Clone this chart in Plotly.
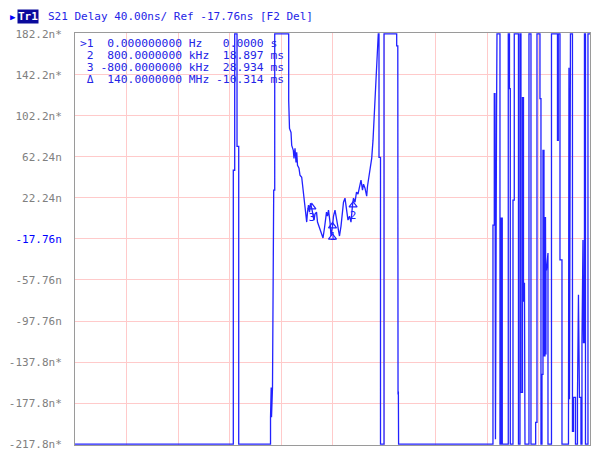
import plotly.graph_objects as go

# ---------------- data ----------------
# trace: frequency offset (MHz) vs group delay (ns); values clamp at the display limits
freq_mhz = [
    -10.0, -3.852, -3.852, -3.798, -3.798, -3.708, -3.708, -3.642, -3.642,
    -2.407, -2.407, -2.400, -2.394, -2.381, -2.369, -2.330, -2.283, -2.244, -2.244,
    -1.701, -1.701, -1.670, -1.611, -1.584, -1.522, -1.495, -1.456, -1.417, -1.390,
    -1.359, -1.301, -1.262, -1.196, -1.165, -1.134, -1.107, -1.068, -1.029, -1.002,
    -0.971, -0.932, -0.893, -0.854, -0.808, -0.757, -0.718, -0.680, -0.621, -0.582,
    -0.524, -0.485, -0.427, -0.369, -0.311, -0.272, -0.233, -0.194, -0.155, -0.097,
    -0.058, 0.000, 0.039, 0.097, 0.155, 0.214, 0.272, 0.330, 0.388, 0.427, 0.485,
    0.544, 0.602, 0.660, 0.718, 0.777, 0.815, 0.874, 0.932, 0.990, 1.048, 1.107,
    1.165, 1.204, 1.262, 1.328, 1.359, 1.398, 1.437, 1.476, 1.522, 1.573, 1.623,
    1.689, 1.740, 1.778, 1.806, 1.806, 1.864, 1.864, 2.000, 2.000, 2.493, 2.493,
    2.536, 2.536, 2.545, 2.550, 2.558, 2.567,
    6.232, 6.232, 6.283, 6.283, 6.310, 6.329, 6.341, 6.357, 6.370, 6.388, 6.504,
    6.504, 6.543, 6.543, 6.593, 6.593, 6.826, 6.826, 6.873, 6.873, 6.904, 6.904,
    7.009, 7.009, 7.059, 7.059, 7.222, 7.222, 7.281, 7.281, 7.319, 7.319, 7.378,
    7.378, 7.417, 7.417, 7.455, 7.475, 7.630, 7.630, 7.708, 7.708, 7.890, 7.890,
    7.941, 7.941, 8.057, 8.057, 8.096, 8.096, 8.135, 8.135, 8.174, 8.174, 8.213,
    8.213, 8.232, 8.252, 8.271, 8.290, 8.290, 8.310, 8.368, 8.368, 8.504, 8.504,
    8.737, 8.737, 8.768, 8.768, 8.834, 8.834, 8.912, 8.912, 9.164, 9.164, 9.183,
    9.203, 9.222, 9.241, 9.319, 9.319, 9.358, 9.358, 9.436, 9.436, 9.513, 9.513,
    9.552, 9.591, 9.649, 9.649, 9.688, 9.688, 9.727, 9.746, 9.785, 9.785, 9.824,
    9.824, 9.921, 9.921, 10.0,
]
delay_ns = [
    -217.8, -217.8, 49.2, 49.2, 182.2, 182.2, 72.5, 72.5, -217.8,
    -217.8, -191.6, -162.5, -191.6, -162.5, -191.6, -162.5, 29.8, 29.8, 182.2,
    182.2, 117.1, 90.0, 86.1, 73.5, 68.6, 60.8, 70.5, 56.9, 66.7,
    54.0, 51.1, 44.3, 42.4, 34.6, 24.9, 20.1, 10.4, 2.6, -1.3,
    8.4, 15.2, 8.4, 17.1, 12.3, 5.5, 0.6, 6.5, 8.4, -1.3,
    -5.2, -9.1, -11.0, -16.8, -7.1, 0.6, 8.4, 4.5, 10.4, -1.3,
    -14.9, -5.2, 4.5, 10.4, 2.6, -7.1, -14.9, -5.2, 10.4, 18.1, 22.0,
    10.4, 0.6, 4.5, -1.3, 15.2, 22.0, 18.1, 27.8, 25.9, 33.6, 39.5,
    29.8, 35.6, 31.7, 23.9, 33.6, 39.5, 47.2, 54.0, 60.8, 78.3, 104.5,
    139.5, 156.0, 182.2, 182.2, 61.8, 61.8, -217.8, -217.8, 182.2, 182.2, 170.5,
    170.5, -106.2, -169.3, -111.0, -166.4, -217.8,
    -217.8, -4.2, -4.2, 123.9, 123.9, -213.0, 99.7, -213.0, 99.7, 182.2, 182.2,
    -217.8, -217.8, 2.6, 2.6, -217.8, -217.8, 182.2, 182.2, 128.8, 128.8, -217.8,
    -217.8, 20.1, 20.1, 182.2, 182.2, -217.8, -217.8, 182.2, 182.2, -167.3, -167.3,
    120.1, 120.1, -79.0, -60.5, -217.8, -217.8, 182.2, 182.2, -217.8, -217.8, -196.5,
    -196.5, 182.2, 182.2, 119.1, 119.1, -217.8, -217.8, -149.8, -149.8, 68.6, 68.6,
    -132.4, 3.6, -132.4, 3.6, -130.4, -47.9, -47.9, -31.4, -217.8, -217.8, 182.2,
    182.2, 78.3, 78.3, 182.2, 182.2, -38.2, -38.2, -217.8, -217.8, -174.1, 149.2,
    -174.1, 149.2, 182.2, 182.2, -205.2, -205.2, -172.2, -172.2, -217.8, -217.8, -172.2,
    -72.2, -172.2, -172.2, -217.8, -217.8, -118.8, -18.8, -118.8, -118.8, 182.2, 182.2,
    -217.8, -217.8, 182.2, 182.2,
]

# y-axis scale (ns) and labels
y_ticks = [182.2, 142.2, 102.2, 62.24, 22.24, -17.76, -57.76, -97.76, -137.8, -177.8, -217.8]
y_labels = ["182.2n*", "142.2n*", "102.2n*", "62.24n", "22.24n", "-17.76n",
            "-57.76n", "-97.76n", "-137.8n*", "-177.8n*", "-217.8n*"]
ref_level = -17.76
x_start, x_stop, x_div = -10.0, 10.0, 2.0

# markers
mk_names = ["1", "2", "3"]
mk_freq = [0.0, 0.8, -0.8]
mk_delay = [-5.2, 15.2, 13.3]

# marker table
tbl_label = [">1", "2", "3", "\u0394"]
tbl_freq = ["0.000000000", "800.0000000", "-800.0000000", "140.0000000"]
tbl_funit = ["Hz", "kHz", "kHz", "MHz"]
tbl_val = ["0.0000", "18.897", "28.934", "-10.314"]
tbl_vunit = ["s", "ms", "ms", "ms"]

header = "S21 Delay 40.00ns/ Ref -17.76ns [F2 Del]"

# ---------------- figure ----------------
BLUE = "#2222ff"
TXT = "#2424e6"
MONO = "DejaVu Sans Mono"
NB = "\u00a0"

fig = go.Figure()
fig.add_trace(go.Scatter(x=freq_mhz, y=delay_ns, mode="lines",
                         line=dict(color=BLUE, width=1.3), hoverinfo="skip"))

# on-trace markers
fig.add_trace(go.Scatter(x=mk_freq, y=mk_delay, mode="markers+text", text=mk_names,
                         textposition="bottom center",
                         textfont=dict(family=MONO, size=11, color=BLUE),
                         marker=dict(symbol="triangle-up-open", size=7, color=BLUE,
                                     line=dict(width=1.2, color=BLUE)),
                         hoverinfo="skip"))
fig.add_trace(go.Scatter(x=[mk_freq[0]], y=[mk_delay[0] - 11], mode="markers",
                         marker=dict(symbol="triangle-up-open", size=7, color=BLUE,
                                     line=dict(width=1.2, color=BLUE)),
                         hoverinfo="skip"))

# bottom marker pointers
fig.add_trace(go.Scatter(x=[mk_freq[2], mk_freq[0], mk_freq[1]], y=[-221.8] * 3,
                         mode="markers", cliponaxis=False,
                         marker=dict(symbol=["triangle-up-open", "triangle-up", "triangle-up-open"],
                                     size=10, color=BLUE, line=dict(width=1, color=BLUE)),
                         hoverinfo="skip"))
# reference level pointers
fig.add_trace(go.Scatter(x=[x_start - 0.2], y=[ref_level], mode="markers", cliponaxis=False,
                         marker=dict(symbol="triangle-right", size=10, color="#0000ff"),
                         hoverinfo="skip"))
fig.add_trace(go.Scatter(x=[x_stop + 0.08], y=[ref_level], mode="markers", cliponaxis=False,
                         marker=dict(symbol="triangle-left", size=6, color="#0000ff"),
                         hoverinfo="skip"))

ticktext = [("<span style='color:#0000ff'>%s</span>" % t) if v == ref_level else t
            for t, v in zip(y_labels, y_ticks)]

fig.update_xaxes(range=[x_start, x_stop], tick0=x_start, dtick=x_div, showticklabels=False,
                 showgrid=True, gridcolor="#ffcaca", gridwidth=1, zeroline=False,
                 showline=True, linecolor="#9a9a9a", linewidth=1, mirror=True, ticks="",
                 automargin=False)
fig.update_yaxes(range=[-218.6, 183.0], tickvals=y_ticks, ticktext=ticktext,
                 showgrid=True, gridcolor="#ffcaca", gridwidth=1, zeroline=False,
                 showline=True, linecolor="#9a9a9a", linewidth=1, mirror=True,
                 ticks="", ticklabelstandoff=10, automargin=False,
                 tickfont=dict(family=MONO, size=11, color="#808080"))

ann = []
# header
ann.append(dict(xref="paper", yref="paper", x=-0.1305, y=1.040, xanchor="left", yanchor="middle",
                text="\u25B6", showarrow=False, font=dict(family=MONO, size=9, color="#0000ff")))
ann.append(dict(xref="paper", yref="paper", x=-0.1135, y=1.040, xanchor="left", yanchor="middle",
                text="<b>Tr1</b>", showarrow=False, bgcolor="#0a0a9c", borderpad=0,
                font=dict(family=MONO, size=11, color="white")))
ann.append(dict(xref="paper", yref="paper", x=-0.057, y=1.040, xanchor="left", yanchor="middle",
                text=header.replace(" ", NB), showarrow=False,
                font=dict(family=MONO, size=11, color=TXT)))
# marker table
for i in range(4):
    yy = (445 - (44 + i * 11.8)) / 412
    row = "%s %s %s %s %s" % (tbl_label[i].rjust(2), tbl_freq[i].rjust(12), tbl_funit[i].ljust(3),
                               tbl_val[i].rjust(7), tbl_vunit[i])
    ann.append(dict(xref="paper", yref="paper", x=0.005, y=yy, xanchor="left", yanchor="middle",
                    text=row.replace(" ", NB), showarrow=False,
                    font=dict(family=MONO, size=11.3, color=TXT)))

fig.update_layout(width=594, height=452, margin=dict(l=75, r=4, t=33, b=7, autoexpand=False),
                  plot_bgcolor="white", paper_bgcolor="white", showlegend=False,
                  annotations=ann)

fig.write_html("out.html", config={"displayModeBar": False},
               post_script="document.body.style.margin='0px';document.body.style.overflow='hidden';")
